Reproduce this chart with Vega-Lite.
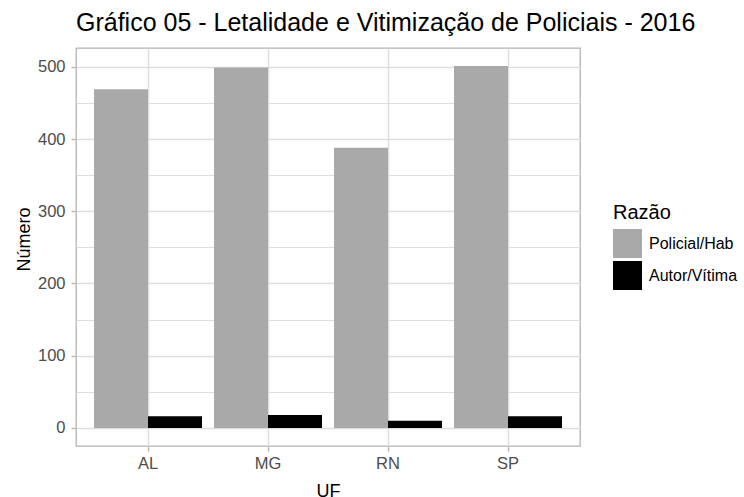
{
  "$schema": "https://vega.github.io/schema/vega-lite/v6.json",
  "width": 504,
  "height": 398,
  "autosize": {"type": "none"},
  "padding": {"left": 76, "top": 48, "right": 164, "bottom": 51},
  "background": "white",
  "title": {
    "text": "Gráfico 05 - Letalidade e Vitimização de Policiais - 2016",
    "anchor": "start",
    "frame": "group",
    "baseline": "alphabetic",
    "offset": 15,
    "dy": 23,
    "font": "Liberation Sans",
    "fontSize": 25,
    "fontWeight": "normal",
    "color": "#000000"
  },
  "data": {
    "values": [
      {"UF": "AL", "Razao": "Policial/Hab", "Numero": 469},
      {"UF": "AL", "Razao": "Autor/Vítima", "Numero": 16},
      {"UF": "MG", "Razao": "Policial/Hab", "Numero": 499},
      {"UF": "MG", "Razao": "Autor/Vítima", "Numero": 18},
      {"UF": "RN", "Razao": "Policial/Hab", "Numero": 388},
      {"UF": "RN", "Razao": "Autor/Vítima", "Numero": 10},
      {"UF": "SP", "Razao": "Policial/Hab", "Numero": 501},
      {"UF": "SP", "Razao": "Autor/Vítima", "Numero": 16}
    ]
  },
  "mark": {"type": "bar"},
  "encoding": {
    "x": {
      "field": "UF",
      "type": "nominal",
      "scale": {"paddingInner": 0.1, "paddingOuter": 0.15},
      "axis": {
        "title": "UF",
        "labelAngle": 0,
        "bandPosition": 0.5,
        "grid": true,
        "gridColor": "#dedede",
        "gridWidth": 1.5,
        "domain": false,
        "tickColor": "#b3b3b3",
        "tickSize": 5,
        "tickWidth": 1.3,
        "labelPadding": 4,
        "labelFont": "Liberation Sans",
        "labelFontSize": 16.5,
        "labelColor": "#4d4d4d",
        "titleFont": "Liberation Sans",
        "titleFontSize": 18,
        "titleFontWeight": "normal",
        "titleColor": "#000000",
        "titleBaseline": "alphabetic",
        "titleY": 50
      }
    },
    "xOffset": {
      "field": "Razao",
      "type": "nominal",
      "scale": {"domain": ["Policial/Hab", "Autor/Vítima"], "paddingInner": 0, "paddingOuter": 0}
    },
    "y": {
      "field": "Numero",
      "type": "quantitative",
      "scale": {"domain": [-25.05, 526.05], "nice": false, "zero": false},
      "axis": {
        "title": "Número",
        "values": [0, 50, 100, 150, 200, 250, 300, 350, 400, 450, 500],
        "labelExpr": "datum.value % 100 === 0 ? datum.label : ''",
        "grid": true,
        "gridColor": "#dedede",
        "gridWidth": {"condition": {"test": "datum.value % 100 !== 0", "value": 1}, "value": 1.5},
        "domain": false,
        "tickColor": {"condition": {"test": "datum.value % 100 !== 0", "value": "transparent"}, "value": "#b3b3b3"},
        "tickSize": 5,
        "tickWidth": 1.3,
        "labelPadding": 6,
        "labelFont": "Liberation Sans",
        "labelFontSize": 16.5,
        "labelColor": "#4d4d4d",
        "titleFont": "Liberation Sans",
        "titleFontSize": 18,
        "titleFontWeight": "normal",
        "titleColor": "#000000",
        "titleX": -47,
        "titleY": 191,
        "titleBaseline": "alphabetic"
      }
    },
    "color": {
      "field": "Razao",
      "type": "nominal",
      "scale": {"domain": ["Policial/Hab", "Autor/Vítima"], "range": ["#a9a9a9", "#000000"]},
      "legend": {
        "title": "Razão",
        "orient": "none",
        "legendX": 537,
        "legendY": 155,
        "symbolType": "square",
        "symbolSize": 841,
        "symbolStrokeWidth": 0,
        "symbolOpacity": 1,
        "rowPadding": 3,
        "labelOffset": 7,
        "titlePadding": 6,
        "titleFont": "Liberation Sans",
        "titleFontSize": 20,
        "titleFontWeight": "normal",
        "titleColor": "#000000",
        "labelFont": "Liberation Sans",
        "labelFontSize": 16,
        "labelColor": "#000000"
      }
    }
  },
  "config": {
    "view": {"stroke": "#b3b3b3", "strokeWidth": 1.3},
    "bar": {"stroke": null}
  }
}
